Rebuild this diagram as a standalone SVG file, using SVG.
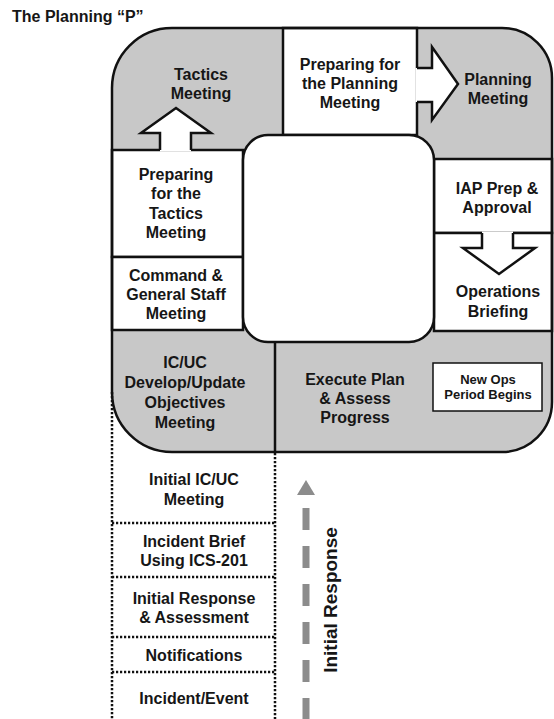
<svg xmlns="http://www.w3.org/2000/svg" width="554" height="719" viewBox="0 0 554 719">
<style>
.t{font-family:"Liberation Sans",Arial,sans-serif;font-weight:bold;font-size:16px;fill:#161616;text-anchor:middle}
.box{fill:#fff;stroke:#111;stroke-width:2.5}
.ln{fill:none;stroke:#111;stroke-width:2.5}
.dot{fill:none;stroke:#111;stroke-width:2.5;stroke-dasharray:2.2 1.8}
.af{fill:#fff;stroke:none}
</style>
<rect width="554" height="719" fill="#fff"/>
<text x="12" y="22" class="t" style="text-anchor:start">The Planning “P”</text>
<path id="p-bg" d="M172 28H502A50 50 0 0 1 552 78V402A50 50 0 0 1 502 452H172A60 60 0 0 1 112 392V88A60 60 0 0 1 172 28Z" fill="#c8c8c8"/>
<g id="n-prep-planning"><rect class="box" x="283" y="28" width="134" height="107"/></g>
<g id="n-prep-tactics"><rect class="box" x="112" y="150" width="131" height="107"/></g>
<g id="n-command"><rect class="box" x="112" y="257" width="131" height="73"/></g>
<g id="n-iap"><rect class="box" x="434" y="159" width="118" height="74"/></g>
<g id="n-ops"><rect class="box" x="434" y="233" width="118" height="98"/></g>
<g id="connectors">
<polygon class="af" points="160,151.5 160,133 141,133 176,108 211,133 191,133 191,151.5"/>
<polyline class="ln" points="160,150 160,133 141,133 176,108 211,133 191,133 191,150"/>
<polygon class="af" points="415.5,68 432,68 432,47 458,84 432,120 432,102 415.5,102"/>
<polyline class="ln" points="417,68 432,68 432,47 458,84 432,120 432,102 417,102"/>
<polygon class="af" points="482,231.5 513,231.5 513,248 535,248 499,274 463,248 482,248"/>
<polyline class="ln" points="482,233 482,248 463,248 499,274 535,248 513,248 513,233"/>
<line class="ln" x1="275" y1="342" x2="275" y2="452"/>
<line x1="306" y1="508" x2="306" y2="719" stroke="#8c8c8c" stroke-width="7" stroke-dasharray="22 16"/>
<polygon points="306,480 297,495 315,495" fill="#8c8c8c"/>
</g>
<g id="n-center"><rect class="box" x="243" y="135" width="191" height="207" rx="25"/></g>
<path class="ln" d="M172 28H502A50 50 0 0 1 552 78V402A50 50 0 0 1 502 452H172A60 60 0 0 1 112 392V88A60 60 0 0 1 172 28Z" stroke-width="2.8"/>
<g id="n-newops"><rect x="433" y="363" width="109" height="48" fill="#fff" stroke="#111" stroke-width="1.5"/></g>
<g id="dotted">
<line class="dot" x1="112" y1="392" x2="112" y2="719"/>
<line class="dot" x1="275" y1="453" x2="275" y2="719"/>
<line class="dot" x1="112" y1="523" x2="275" y2="523"/>
<line class="dot" x1="112" y1="577" x2="275" y2="577"/>
<line class="dot" x1="112" y1="637" x2="275" y2="637"/>
<line class="dot" x1="112" y1="672" x2="275" y2="672"/>
</g>
<g id="labels">
<text class="t" x="201" y="80">Tactics</text><text class="t" x="201" y="99">Meeting</text>
<text class="t" x="350" y="70">Preparing for</text><text class="t" x="350" y="89">the Planning</text><text class="t" x="350" y="108">Meeting</text>
<text class="t" x="498" y="85">Planning</text><text class="t" x="498" y="104">Meeting</text>
<text class="t" x="176" y="180">Preparing</text><text class="t" x="176" y="199">for the</text><text class="t" x="176" y="219">Tactics</text><text class="t" x="176" y="238">Meeting</text>
<text class="t" x="176" y="281">Command &amp;</text><text class="t" x="176" y="300">General Staff</text><text class="t" x="176" y="319">Meeting</text>
<text class="t" x="497" y="194">IAP Prep &amp;</text><text class="t" x="497" y="213">Approval</text>
<text class="t" x="498" y="297">Operations</text><text class="t" x="498" y="317">Briefing</text>
<text class="t" x="185" y="368">IC/UC</text><text class="t" x="185" y="388">Develop/Update</text><text class="t" x="185" y="408">Objectives</text><text class="t" x="185" y="428">Meeting</text>
<text class="t" x="355" y="385">Execute Plan</text><text class="t" x="355" y="404">&amp; Assess</text><text class="t" x="355" y="423">Progress</text>
<text class="t" x="488" y="384" style="font-size:13px">New Ops</text><text class="t" x="488" y="399" style="font-size:13px">Period Begins</text>
<text class="t" x="194" y="485">Initial IC/UC</text><text class="t" x="194" y="505">Meeting</text>
<text class="t" x="194" y="547">Incident Brief</text><text class="t" x="194" y="566">Using ICS-201</text>
<text class="t" x="194" y="604">Initial Response</text><text class="t" x="194" y="623">&amp; Assessment</text>
<text class="t" x="194" y="661">Notifications</text>
<text class="t" x="194" y="704">Incident/Event</text>
<text class="t" transform="translate(337,600) rotate(-90)" style="font-size:19px">Initial Response</text>
</g>
</svg>
